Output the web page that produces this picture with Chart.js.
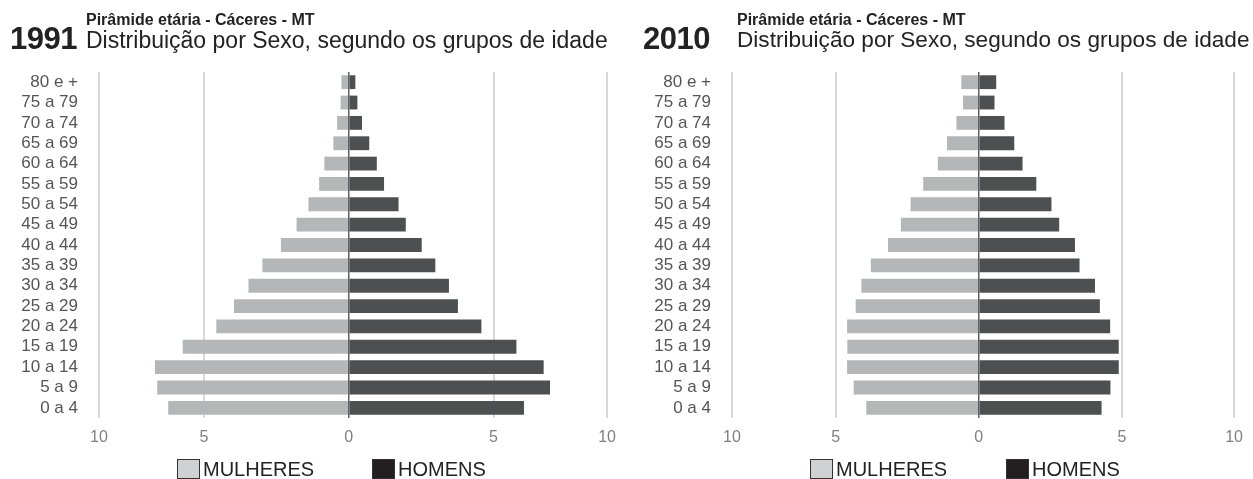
<!DOCTYPE html>
<html>
<head>
<meta charset="utf-8">
<script src="https://cdn.jsdelivr.net/npm/chart.js@4.4.1/dist/chart.umd.min.js"></script>
<style>
  body { margin: 0; background: #fff; width: 1253px; height: 479px; overflow: hidden; position: relative;
         font-family: "Liberation Sans", Arial, sans-serif; color: #222; }
  .panel { position: absolute; top: 0; height: 479px; }
  .panel canvas { position: absolute; left: 0; top: 0; }
  .year { position: absolute; top: 23px; font-size: 31px; font-weight: bold; line-height: 1; letter-spacing: -0.5px; }
  .title { position: absolute; top: 12px; font-size: 16px; font-weight: bold; line-height: 1; }
  .subtitle { position: absolute; top: 29px; font-size: 23px; line-height: 1; }
  .legend { position: absolute; top: 459px; font-size: 20px; line-height: 20px; }
  .legend span { position: absolute; white-space: nowrap; }
  .legend .box { width: 21px; height: 18px; border: 1px solid #333; }
</style>
</head>
<body>
<div class="panel" style="left:0;width:626px">
  <canvas id="chart1991" width="626" height="479"></canvas>
  <div class="year" style="left:10px">1991</div>
  <div class="title" style="left:86px">Pirâmide etária - Cáceres - MT</div>
  <div class="subtitle" style="left:86px">Distribuição por Sexo, segundo os grupos de idade</div>
  <div class="legend" id="legend1991" style="left:177px"></div>
</div>
<div class="panel" style="left:626px;width:627px">
  <canvas id="chart2010" width="627" height="479"></canvas>
  <div class="year" style="left:17px">2010</div>
  <div class="title" style="left:111px">Pirâmide etária - Cáceres - MT</div>
  <div class="subtitle" style="left:111px;font-size:22.6px">Distribuição por Sexo, segundo os grupos de idade</div>
  <div class="legend" id="legend2010" style="left:184px"></div>
</div>
<script>
// grupos de idade, de cima para baixo
const faixas = ['80 e +', '75 a 79', '70 a 74', '65 a 69', '60 a 64', '55 a 59', '50 a 54', '45 a 49',
  '40 a 44', '35 a 39', '30 a 34', '25 a 29', '20 a 24', '15 a 19', '10 a 14', '5 a 9', '0 a 4'];

// % da população
const mulheres1991 = [0.25, 0.28, 0.40, 0.53, 0.84, 1.02, 1.39, 1.80, 2.34, 2.98, 3.46, 3.96, 4.57, 5.73, 6.69, 6.61, 6.23];
const homens1991   = [0.23, 0.30, 0.46, 0.71, 0.97, 1.22, 1.72, 1.97, 2.52, 2.99, 3.46, 3.77, 4.58, 5.79, 6.73, 6.95, 6.05];
const mulheres2010 = [0.61, 0.55, 0.78, 1.11, 1.43, 1.94, 2.38, 2.72, 3.17, 3.77, 4.10, 4.30, 4.60, 4.59, 4.60, 4.37, 3.93];
const homens2010   = [0.61, 0.55, 0.90, 1.24, 1.53, 2.01, 2.54, 2.81, 3.36, 3.52, 4.06, 4.23, 4.59, 4.89, 4.89, 4.60, 4.29];

// the outer lines of the original sit closer than a true 10
const eixoMin = -8.62;
const eixoMax = 8.92;
const xTicks = [eixoMin, -5, 0, 5, eixoMax];
const xTickLabels = ['10', '5', '0', '5', '10'];

const corMulheres = '#b5b6b8';
const corHomens = '#4e4f51';

function pyramid(id, mulheres, homens, plotLeft, padRight) {
    const ctx = document.getElementById(id).getContext('2d');
    return new Chart(ctx, {
        type: 'bar',
        data: {
            labels: faixas,
            datasets: [{
                label: 'MULHERES',
                data: mulheres.map(v => -v),
                backgroundColor: corMulheres,
                legendColor: '#d0d1d3',
                barPercentage: 0.68,
                categoryPercentage: 1
            }, {
                label: 'HOMENS',
                data: homens,
                backgroundColor: corHomens,
                legendColor: '#231f20',
                barPercentage: 0.68,
                categoryPercentage: 1
            }]
        },
        options: {
            indexAxis: 'y',
            responsive: false,
            animation: false,
            layout: { padding: { top: 72, bottom: 27, right: padRight, left: 0 } },
            plugins: {
                legend: { display: false },
                tooltip: { enabled: false }
            },
            scales: {
                x: {
                    stacked: true,
                    min: eixoMin,
                    max: eixoMax,
                    afterBuildTicks: axis => { axis.ticks = xTicks.map(v => ({ value: v })); },
                    afterFit: axis => { axis.height = 34; },
                    ticks: {
                        callback: (v, i) => xTickLabels[i],
                        color: '#808080',
                        padding: 10,
                        maxRotation: 0,
                        font: { family: 'Liberation Sans', size: 16 }
                    },
                    grid: {
                        drawTicks: false,
                        color: c => c.tick && c.tick.value === 0 ? '#606060' : '#d8d8d8',
                        lineWidth: c => c.tick && c.tick.value === 0 ? 1.5 : 2
                    },
                    border: { display: false }
                },
                y: {
                    stacked: true,
                    afterFit: axis => { axis.width = plotLeft; },
                    ticks: {
                        color: '#555',
                        padding: 21,
                        autoSkip: false,
                        font: { family: 'Liberation Sans', size: 17 }
                    },
                    grid: { display: false, drawTicks: false },
                    border: { display: false }
                }
            }
        }
    });
}

function htmlLegend(chart, id, offsets) {
    const el = document.getElementById(id);
    chart.data.datasets.forEach((ds, i) => {
        const box = document.createElement('span');
        box.className = 'box';
        box.style.left = offsets[i] + 'px';
        box.style.background = ds.legendColor;
        const txt = document.createElement('span');
        txt.textContent = ds.label;
        txt.style.left = (offsets[i] + 26) + 'px';
        el.appendChild(box);
        el.appendChild(txt);
    });
}

const c1991 = pyramid('chart1991', mulheres1991, homens1991, 99, 16);
const c2010 = pyramid('chart2010', mulheres2010, homens2010, 106, 12);
htmlLegend(c1991, 'legend1991', [0, 195]);
htmlLegend(c2010, 'legend2010', [0, 196]);
</script>
</body>
</html>
